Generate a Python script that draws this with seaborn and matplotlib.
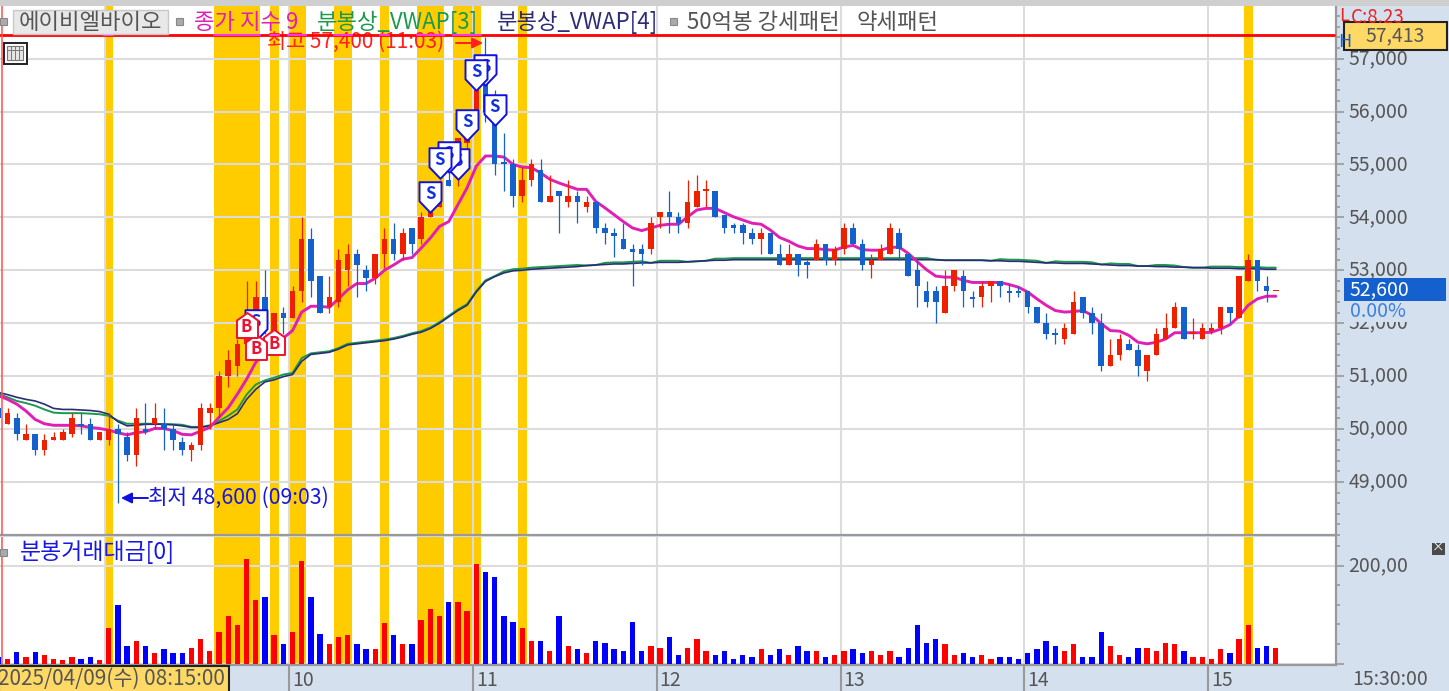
import numpy as np
import pandas as pd
import seaborn as sns
import matplotlib.pyplot as plt
from matplotlib.patches import Rectangle
from matplotlib.path import Path
from matplotlib.ticker import FuncFormatter, MultipleLocator
from matplotlib.transforms import ScaledTranslation

sns.set_theme(style='white')
plt.rcParams['font.family'] = ['Noto Sans CJK KR', 'DejaVu Sans']

# 3분봉, 09:00 봉이 0
first_bar = -12

opens = [50400,50100,50200,49800,49900,49600,49800,49800,49900,50100,50100,49800,
         49800,50000,49850,49500,50000,50100,50100,50000,49750,49600,
         49700,50300,50400,51000,51200,51600,52000,52500,51800,52200,
         52100,52600,53600,52900,52300,52400,53000,53300,53000,52850,
         53300,53600,53300,53800,53600,54000,54200,54700,54900,55400,
         55700,56700,56100,55050,55000,54400,54700,54900,54300,54500,
         54300,54400,54200,54300,53800,53700,53600,53400,53400,53400,
         54000,54100,54000,53900,54200,54500,54500,54050,53850,53850,
         53700,53600,53700,53300,53100,53300,53150,53200,53500,53200,
         53400,53800,53500,53100,53200,53300,53700,53300,53000,52600,
         52600,52200,52700,52900,52500,52500,52700,52800,52600,52600,
         52600,52300,52000,51800,51700,51800,52500,52200,52000,51200,
         51400,51600,51500,51100,51400,51700,51900,52300,51800,51700,
         51850,51900,52300,52100,52800,53200,52700,52600]
closes = [50200,50300,49900,49900,49600,49800,49850,49950,50200,50050,49800,49950,
          50000,49900,49500,50200,49950,50200,50000,49800,49600,49700,
          50400,50400,51000,51300,51600,52000,52500,51900,52200,52100,
          52600,53600,52800,52200,52500,53200,53300,53100,52850,53300,
          53600,53300,53700,53500,54000,54100,54600,54600,55500,55900,
          56400,56000,55000,55000,54400,54700,55000,54300,54400,54400,
          54400,54300,54300,53800,53700,53650,53400,53350,53300,53900,
          54100,54000,53900,54300,54500,54530,54000,53800,53800,53700,
          53600,53700,53300,53100,53300,53100,53100,53500,53200,53400,
          53800,53500,53100,53200,53400,53800,53400,52900,52700,52400,
          52400,52700,53000,52600,52450,52700,52800,52700,52580,52580,
          52300,52000,51800,51780,51900,52400,52200,52000,51200,51400,
          51700,51500,51200,51400,51800,51900,52300,51700,51820,51900,
          51900,52300,52200,52900,53200,52800,52600,52600]
highs = [50500,50400,50300,50100,49900,49900,49950,50000,50300,50300,50200,49950,
         50300,50100,49950,50400,50500,50500,50400,50100,49850,49750,
         50500,50500,51100,51500,51700,52800,52800,53000,52200,52300,
         52700,54000,53800,52900,52900,53400,53500,53400,53100,53300,
         53800,53900,53800,53800,54100,54300,54700,55400,55500,56000,
         56500,57400,56400,55600,55100,54950,55100,55100,54800,54500,
         54700,54500,54400,54300,53900,53800,53900,53500,53500,54000,
         54100,54500,54100,54700,54800,54700,54500,54050,53900,53900,
         53800,53800,53700,53500,53500,53300,53200,53600,53500,53450,
         53900,53900,53600,53300,53500,53900,53800,53300,53200,52800,
         52700,53000,53000,53000,52600,52800,52800,52800,52750,52700,
         52600,52300,52200,51900,52000,52600,52500,52300,52200,51700,
         51800,51700,51600,51400,51900,52200,52400,52300,52100,52000,
         52000,52300,52300,52900,53300,53200,52900,52600]
lows = [50100,50100,49800,49800,49500,49500,49800,49800,49850,49900,49800,49800,
        49700,48600,49400,49300,49900,50000,49600,49600,49500,49400,
        49600,50000,50200,50800,51000,51500,51600,51800,51700,51800,
        52100,52400,52500,52200,52200,52300,52700,52500,52600,52750,
        53050,53200,53200,53300,53500,54000,54200,54600,54600,55200,
        55700,55800,54800,54500,54200,54300,54600,54300,54300,53700,
        54200,53900,54100,53700,53500,53250,53400,52700,53100,53300,
        53800,53700,53700,53800,54200,54200,54000,53700,53700,53500,
        53500,53300,53300,53100,53100,52900,52850,53200,53100,53100,
        53300,53500,53000,52850,53200,53300,53200,52900,52300,52300,
        52000,52200,52600,52300,52300,52300,52400,52500,52400,52500,
        52200,52000,51700,51600,51600,51800,52100,51800,51100,51200,
        51300,51500,51000,50900,51400,51700,51900,51700,51700,51700,
        51800,51800,52000,52100,52800,52600,52400,52600]

ma9 = [50630,50560,50470,50340,50180,50100,50070,50070,50070,50060,50030,50010,
       49980,49930,49890,49930,49950,50010,50010,49970,49900,49890,
       49960,50030,50220,50400,50660,50940,51260,51450,51610,51720,
       51860,52210,52320,52320,52300,52460,52630,52750,52750,52850,
       53000,53100,53210,53240,53420,53610,53830,53920,54240,54560,
       54970,55160,55160,55140,55000,54950,54940,54840,54720,54650,
       54590,54530,54530,54300,54180,54050,53920,53800,53750,53800,
       53850,53870,53870,54010,54140,54170,54170,54090,54010,53950,
       53890,53870,53760,53620,53550,53460,53410,53410,53390,53380,
       53440,53470,53390,53380,53380,53430,53440,53320,53160,53010,
       52890,52870,52870,52810,52770,52770,52770,52770,52730,52680,
       52590,52460,52340,52240,52210,52220,52240,52150,51990,51860,
       51850,51770,51640,51610,51640,51700,51820,51820,51820,51820,
       51830,51890,51970,52130,52340,52460,52510,52510]
vwap3 = [50660,50600,50530,50490,50440,50370,50310,50300,50300,50300,50290,50280,
         50250,50160,50100,50100,50100,50100,50090,50090,50080,50040,
         50040,50070,50150,50250,50370,50650,50840,50920,50970,51030,
         51060,51340,51430,51450,51470,51530,51610,51630,51650,51670,
         51690,51720,51760,51810,51850,51920,52020,52140,52260,52360,
         52610,52810,52890,52980,53020,53030,53050,53060,53070,53080,
         53090,53100,53090,53100,53140,53150,53150,53160,53170,53140,
         53180,53180,53180,53160,53170,53180,53220,53220,53230,53230,
         53230,53230,53230,53230,53230,53230,53230,53230,53230,53230,
         53230,53230,53230,53230,53230,53230,53230,53230,53230,53230,
         53200,53190,53190,53190,53190,53190,53180,53210,53200,53200,
         53190,53180,53140,53170,53160,53160,53160,53150,53110,53130,
         53120,53120,53080,53080,53100,53100,53090,53060,53050,53050,
         53070,53070,53070,53060,53060,53060,53050,53050]
vwap4 = [50690,50650,50600,50560,50530,50470,50390,50370,50370,50360,50350,50330,
         50280,50140,50060,50070,50090,50090,50090,50080,50060,50030,
         50030,50060,50120,50180,50290,50560,50750,50890,50930,50990,
         51030,51280,51410,51430,51450,51510,51590,51610,51630,51650,
         51670,51700,51740,51790,51830,51900,52000,52120,52240,52340,
         52590,52790,52880,52950,52990,53000,53020,53030,53040,53050,
         53060,53070,53090,53100,53110,53120,53120,53130,53140,53140,
         53150,53150,53150,53160,53170,53180,53190,53190,53200,53200,
         53200,53200,53200,53200,53200,53200,53200,53200,53200,53200,
         53200,53200,53200,53200,53200,53200,53200,53200,53200,53200,
         53200,53190,53190,53190,53190,53190,53180,53180,53170,53170,
         53160,53150,53140,53140,53130,53130,53130,53120,53110,53100,
         53090,53090,53080,53080,53070,53070,53060,53060,53050,53050,
         53040,53040,53040,53030,53030,53030,53020,53020]
volume = [14,10,24,14,24,17,10,7,14,10,14,7,
          72,119,36,47,36,21,29,21,21,32,
          50,25,65,97,79,213,130,137,58,39,
          65,210,137,61,39,54,58,39,29,29,
          83,58,39,39,90,112,97,126,126,108,
          203,187,177,97,86,72,47,47,25,97,
          36,29,21,47,43,29,25,86,25,36,
          32,54,18,32,50,25,18,25,10,18,
          14,29,18,29,18,36,25,25,14,18,
          25,29,21,25,18,25,14,32,79,43,
          50,39,18,21,14,18,10,14,14,10,
          21,29,47,36,25,39,14,14,65,36,
          18,14,32,32,25,43,39,25,14,14,
          10,29,21,50,79,32,36,32]

# 패턴 구간 (시작봉, 끝봉)
pattern_bars = [(0,0),(12,16),(18,18),(20,21),(25,26),(30,30),(34,36),(38,40),(45,45),(124,124)]
sell_bars = [42,41,40,39,38,37,36,35,16]
sell_prices = [56030,56785,56690,55750,55000,55140,55030,54385,51960]
buy_bars = [18,16,15]
buy_prices = [51650,51556,51966]
hour_bars = [0,20,40,60,80,100,120]
hour_labels = ['','10','11','12','13','14','15']
price_ticks = [49000,50000,51000,52000,53000,54000,55000,56000,57000]

bars = np.arange(first_bar, first_bar + len(opens))
df = pd.DataFrame({'bar':bars,'open':opens,'high':highs,'low':lows,'close':closes,
                   'ma9':ma9,'vwap3':vwap3,'vwap4':vwap4,'volume':volume})
df['up'] = df['close'] >= df['open']
df['dir'] = np.where(df['up'],'up','down')

W, H = 1449, 691
panel = '#D5E0EF'
gridc = '#DCDCDC'
axisc = '#999999'
textc = '#555555'
orange = '#FFCC00'
xlim = (-11.83, 133.55)

fig = plt.figure(figsize=(W/100, H/100), dpi=100, facecolor=panel)
ax = fig.add_axes([0, 1-535/H, 1336/W, 529/H])
ax2 = fig.add_axes([0, 1-665/H, 1336/W, 128/H])
ov = fig.add_axes([0, 0, 1, 1])
ov.set_xlim(0, W)
ov.set_ylim(H, 0)
ov.axis('off')

for a in (ax, ax2):
    for s, e in pattern_bars:
        a.axvspan(s-0.5, e+0.5, color=orange, lw=0, zorder=0.2)

# 가격차트
sns.lineplot(data=df, x='bar', y='vwap3', color='#1B9A4B', lw=1.4, ax=ax, zorder=2, errorbar=None)
sns.lineplot(data=df, x='bar', y='vwap4', color='#2B2B78', lw=1.2, ax=ax, zorder=2.1, errorbar=None)
sns.lineplot(data=df, x='bar', y='ma9', color='#E01FB4', lw=2.1, ax=ax, zorder=2.2, errorbar=None)

cols = df['up'].map({True:'#EE2000', False:'#1460CC'})
ax.vlines(df['bar'], df['low'], df['high'], colors=cols, lw=0.9, zorder=3)
body_low = df[['open','close']].min(axis=1)
body_h = (df['close']-df['open']).abs().clip(lower=30)
ax.bar(df['bar'], body_h, bottom=body_low, width=0.6, color=cols, lw=0, zorder=3)

ax.set_xlim(*xlim)
ax.set_ylim(47997, 57995)
ax.set_xlabel('')
ax.set_ylabel('')
ax.set_xticks(np.array(hour_bars)-0.36)
ax.set_xticklabels([])
ax.tick_params(axis='x', length=0)
ax.yaxis.tick_right()
ax.set_yticks(price_ticks)
ax.yaxis.set_major_formatter(FuncFormatter(lambda v, p: f'{int(v):,}'))
ax.yaxis.set_minor_locator(MultipleLocator(200))
ax.tick_params(axis='y', which='major', length=6, width=1.2, color=axisc, labelcolor=textc, labelsize=14, pad=3, right=True)
ax.tick_params(axis='y', which='minor', length=3, width=1.2, color=axisc, right=True)
ax.set_axisbelow(True)
ax.grid(True, color=gridc, lw=1.5)

# 최고가 가로선
ax.axhline(57440, xmax=0.9985, color='#FF0000', lw=2, zorder=5)
for s, e in pattern_bars[:-2]:
    ax.plot([s-0.5, e+0.5], [57440, 57440], color='#FF33EE', lw=1.5, zorder=5.1)

# 매매 표시
S_path = Path([(-0.72,1),(0.72,1),(0.72,-0.25),(0,-1),(-0.72,-0.25),(-0.72,1)], closed=True)
B_path = Path([(0,1),(0.84,0.4),(0.84,-1),(-0.84,-1),(-0.84,0.4),(0,1)], closed=True)
for i, (b, p) in enumerate(zip(sell_bars, sell_prices)):
    ax.plot([b], [p], marker=S_path, ms=22, mfc='white', mec='#1010E0', mew=1.4, zorder=6+i*0.01, ls='none')
    ax.text(b, p+60, 'S', color='#1030E0', fontsize=12, fontweight='bold', ha='center', va='center', zorder=6+i*0.01)
for i, (b, p) in enumerate(zip(buy_bars, buy_prices)):
    ax.plot([b], [p], marker=B_path, ms=18, mfc='white', mec='#F01030', mew=1.4, zorder=7+i*0.01, ls='none')
    ax.text(b, p-40, 'B', color='#F01030', fontsize=12, fontweight='bold', ha='center', va='center', zorder=7+i*0.01)

# 거래대금
sns.barplot(data=df, x='bar', y='volume', hue='dir', palette={'up':'#FF0000','down':'#0000FF'},
            native_scale=True, dodge=False, width=0.58, saturation=1, legend=False, ax=ax2, zorder=3, lw=0)
ax2.set_xlim(*xlim)
ax2.set_ylim(-3, 259)
ax2.set_xlabel('')
ax2.set_ylabel('')
ax2.set_xticks(np.array(hour_bars)-0.36)
ax2.set_xticklabels([])
ax2.tick_params(axis='x', length=19, width=1.5, color=axisc, bottom=True)
ax2.yaxis.tick_right()
ax2.set_yticks([0, 200])
ax2.set_yticklabels(['', '200,00'])
ax2.yaxis.set_minor_locator(MultipleLocator(40))
ax2.tick_params(axis='y', which='major', length=6, width=1.2, color=axisc, labelcolor=textc, labelsize=14, pad=3, right=True)
ax2.tick_params(axis='y', which='minor', length=3, width=1.2, color=axisc, right=True)
ax2.set_axisbelow(True)
ax2.grid(True, color=gridc, lw=1.5)
for b, lab in zip(hour_bars, hour_labels):
    ax2.annotate(lab, (b-0.36, 0), xycoords=('data','axes fraction'), xytext=(2,-11.5), textcoords='offset points',
                 va='center', ha='left', color=textc, fontsize=14)

lift = ScaledTranslation(0, 2.5/100, fig.dpi_scale_trans)
for a in (ax, ax2):
    a.set_facecolor('white')
    a.tick_params(which='both', labelsize=14)
    for n in ('top','left'):
        a.spines[n].set_visible(False)
    a.spines['right'].set_color(axisc)
    a.spines['right'].set_linewidth(1.6)
    a.spines['bottom'].set_color(axisc)
    a.spines['bottom'].set_linewidth(1.6)
    a.axvline(-11.6, color='#FF5050', lw=1.1, zorder=5)
    for t in a.get_yticklabels():
        t.set_transform(t.get_transform() + lift)

# 화면 요소
ov.add_patch(Rectangle((0,0), W, 6, fc='#CFCFCF', ec='none'))
ov.add_patch(Rectangle((12.5,9.5), 155.5, 24, fc='#E8E8E8', ec='#C8C8C8', lw=1))
ov.text(90, 22, '에이비엘바이오', color=textc, fontsize=16, ha='center', va='center')
for x, y in [(3,21),(179,21),(673,21),(3,552)]:
    ov.add_patch(Rectangle((x-3.5,y-3.5), 7, 7, fc='#AAAAAA', ec='#888888', lw=0.8))
ov.text(194, 22, '종가 지수 9', color='#E01FB4', fontsize=16, va='center')
ov.text(317, 22, '분봉상_VWAP[3]', color='#1B9A4B', fontsize=16, va='center')
ov.text(497, 22, '분봉상_VWAP[4]', color='#2B2B78', fontsize=16, va='center')
ov.text(687, 22, '50억봉 강세패턴', color=textc, fontsize=16, va='center')
ov.text(857, 22, '약세패턴', color=textc, fontsize=16, va='center')
ov.text(20, 552, '분봉거래대금[0]', color='#1818E0', fontsize=16.5, va='center')

ax.text(267, 42, '최고 57,400 (11:03)', color='#FF2020', fontsize=15, va='center', transform=ov.transData, zorder=4)
ov.annotate('', xy=(483,43), xytext=(456,43), arrowprops=dict(arrowstyle='-|>', color='#FF2020', lw=1.4, mutation_scale=16, shrinkA=0, shrinkB=0))
ov.annotate('', xy=(121,498), xytext=(148,498), arrowprops=dict(arrowstyle='-|>', color='#1010E0', lw=1.4, mutation_scale=16, shrinkA=0, shrinkB=0))
ov.text(148, 498, '최저 48,600 (09:03)', color='#1818D8', fontsize=15.3, va='center')

# 표 아이콘
ov.add_patch(Rectangle((3.5,42.5), 23, 21, fc='white', ec='#222222', lw=1.4))
ov.add_patch(Rectangle((7,46), 16, 14, fc='#E4E4E4', ec='#777777', lw=0.8))
for x in (11,15,19):
    ov.plot([x,x], [46,60], color='#777777', lw=0.7)
ov.plot([7,23], [50,50], color='#777777', lw=0.7)

# 오른쪽 값 표시
ov.text(1339, 16, 'L', color='#EE2020', fontsize=13, va='center')
ov.text(1351, 17, 'C:8.23', color='#EE2020', fontsize=13.5, va='center')
ov.text(1338, 42, 'H', color='#1460CC', fontsize=13, va='center')
ov.add_patch(Rectangle((1343.5,22), 103, 28, fc='#FFD966', ec='#222222', lw=1.5))
ov.text(1395, 35.5, '57,413', color=textc, fontsize=14, ha='center', va='center')
ov.add_patch(Rectangle((1345,301), 100, 21, fc=panel, ec='none'))
ov.add_patch(Rectangle((1343.5,278), 102.5, 23, fc='#1560CF', ec='none'))
ov.text(1350, 289.5, '52,600', color='white', fontsize=14, va='center')
ov.text(1350, 311, '0.00%', color='#3A80E0', fontsize=14, va='center')
ov.add_patch(Rectangle((1432,543), 13, 12, fc='#4A4A4A', ec='none'))
ov.text(1438.5, 548.5, '×', color='white', fontsize=9, ha='center', va='center')

# 아래 날짜 표시
ov.add_patch(Rectangle((-1,665.5), 230, 27, fc='#FFD966', ec='#222222', lw=1.5))
ov.text(-2, 678.5, '2025/04/09(수) 08:15:00', color=textc, fontsize=15, va='center')
ov.text(1352, 679.5, '15:30:00', color=textc, fontsize=14, va='center')

fig.savefig('out.png', dpi=100, facecolor=panel)
